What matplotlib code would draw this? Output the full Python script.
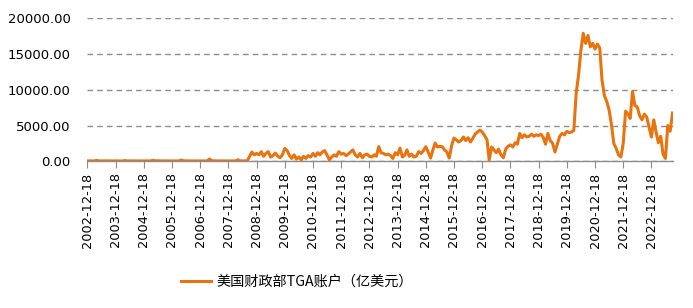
import pandas as pd
import matplotlib
matplotlib.use('Agg')
import matplotlib.pyplot as plt
import matplotlib.dates as mdates

plt.rcParams['font.family'] = ['DejaVu Sans']

# monthly readings of the TGA balance (亿美元), one list per calendar year
start = '2002-12-18'
v2002 = [60]
v2003 = [50, 60, 45, 120, 55, 60, 50, 55, 60, 50, 45, 60]
v2004 = [55, 50, 45, 110, 50, 60, 55, 50, 60, 45, 50, 55]
v2005 = [50, 55, 45, 140, 60, 70, 55, 50, 60, 50, 45, 55]
v2006 = [50, 55, 45, 180, 60, 70, 55, 50, 55, 50, 45, 55]
v2007 = [50, 55, 50, 320, 70, 60, 55, 50, 60, 50, 45, 55]
v2008 = [50, 55, 50, 200, 60, 60, 55, 50, 700, 1300, 900, 1100]
v2009 = [900, 1350, 700, 1100, 1350, 600, 800, 1150, 700, 500, 900, 1800]
v2010 = [1500, 800, 400, 900, 300, 600, 200, 700, 400, 800, 600, 1100]
v2011 = [700, 1200, 900, 1300, 1500, 900, 200, 600, 900, 700, 1350, 1000]
v2012 = [1100, 800, 1000, 1300, 1600, 900, 600, 1100, 500, 900, 1000, 700]
v2013 = [600, 900, 700, 2050, 1200, 1100, 900, 1000, 800, 400, 1200, 900]
v2014 = [1850, 600, 800, 1600, 700, 1000, 600, 700, 1350, 1100, 1500, 2050]
v2015 = [1300, 450, 1500, 2550, 2000, 2100, 2050, 1600, 1300, 450, 2200, 3250]
v2016 = [3000, 2700, 2900, 3400, 2900, 3300, 2700, 3200, 3800, 4100, 4350, 4100]
v2017 = [3600, 3000, 200, 2000, 1600, 1200, 1700, 900, 500, 1700, 2100, 2300]
v2018 = [2000, 2600, 2400, 3900, 3300, 3700, 3400, 3500, 3800, 3500, 3700, 3600]
v2019 = [3800, 3300, 2400, 3900, 2900, 2500, 1300, 2400, 3500, 3900, 3700, 4200]
v2020 = [4000, 4100, 4300, 9500, 12000, 15500, 17900, 16500, 17600, 16000, 16500, 15700]
v2021 = [16400, 15800, 11400, 9200, 8400, 7200, 5200, 2500, 1800, 900, 600, 2500]
v2022 = [7000, 6600, 6000, 9750, 7800, 7600, 6400, 5800, 6600, 6200, 4800, 3400]
v2023 = [5800, 4000, 2600, 3500, 1000, 400, 5000, 4200, 6750]

values = (v2002 + v2003 + v2004 + v2005 + v2006 + v2007 + v2008 + v2009 + v2010
          + v2011 + v2012 + v2013 + v2014 + v2015 + v2016 + v2017 + v2018
          + v2019 + v2020 + v2021 + v2022 + v2023)
dates = pd.date_range(start, periods=len(values), freq=pd.DateOffset(months=1))

tick_dates = pd.date_range('2002-12-18', periods=21, freq=pd.DateOffset(years=1))
y_ticks = [0, 5000, 10000, 15000, 20000]
label = '美国财政部TGA账户（亿美元）'

fig = plt.figure(figsize=(6.93, 3.08), dpi=100)
ax = fig.add_axes([0.126, 0.4763, 0.8456, 0.4643])

line, = ax.plot(dates, values, color='#E9730F', lw=2.2, label=label)

ax.set_xlim(dates[0], dates[-1] + pd.Timedelta(days=10))
ax.set_ylim(0, 20000)
ax.set_yticks(y_ticks)
ax.set_yticklabels(['%.2f' % t for t in y_ticks], fontsize=9.5)
ax.set_xticks(tick_dates)
ax.xaxis.set_major_formatter(mdates.DateFormatter('%Y-%m-%d'))
plt.setp(ax.get_xticklabels(), rotation=90, fontsize=9.3)

ax.yaxis.grid(True, color='#8c8c8c', linestyle=(0, (4, 3)), lw=1)
ax.set_axisbelow(True)
for s in ['left', 'right', 'top']:
    ax.spines[s].set_visible(False)
ax.spines['bottom'].set_color('#8c8c8c')
ax.spines['bottom'].set_linewidth(1)
ax.tick_params(axis='y', length=0, pad=12)
ax.tick_params(axis='x', length=5, color='#8c8c8c', pad=3)

fig.legend(handles=[line], loc='center', bbox_to_anchor=(297 / 693, 1 - 281.7 / 308),
           frameon=False, handlelength=2.1, handletextpad=0.35,
           prop={'family': ['Noto Sans CJK SC', 'DejaVu Sans'], 'size': 10.2})

fig.savefig('out.png', dpi=100)
